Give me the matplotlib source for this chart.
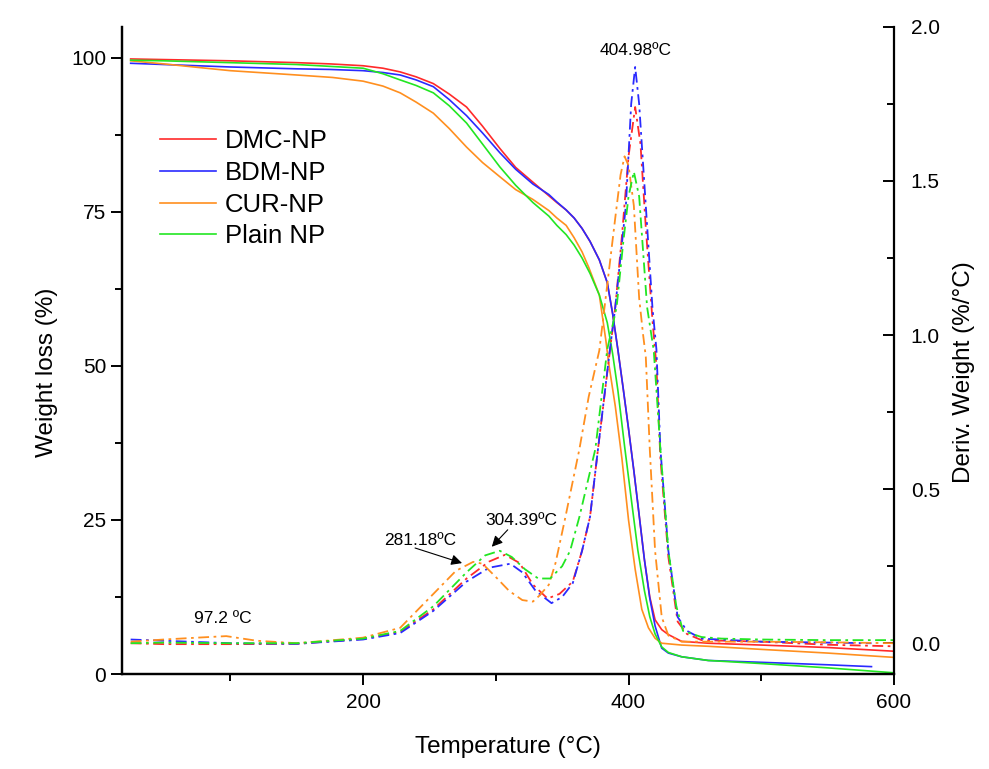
import numpy as np
import matplotlib
matplotlib.use('Agg')
import matplotlib.pyplot as plt
from matplotlib.ticker import MultipleLocator, FormatStrFormatter

plt.rcParams['font.family'] = ['Liberation Sans', 'DejaVu Sans']

# TGA curves (weight %, left axis)
t_dmc = [25, 50, 100, 150, 175, 200, 215, 228, 240, 253, 265, 278, 290, 303, 315, 328, 340, 346, 353, 359,
         365, 371, 378, 384, 388, 392, 396, 400, 404, 408, 412, 416, 420, 425, 430, 440, 460, 500, 550, 600]
w_dmc = [99.8, 99.7, 99.5, 99.2, 99.0, 98.7, 98.3, 97.7, 96.9, 95.8, 94.1, 92.0, 88.9, 85.3, 82.2, 79.8,
         77.6, 76.5, 75.3, 74.0, 72.3, 70.2, 67.2, 63.5, 58.5, 52.6, 46.3, 39.8, 33.0, 25.8, 18.5, 12.5,
         8.8, 7.2, 6.4, 5.3, 5.0, 4.7, 4.3, 3.7]

t_bdm = [25, 50, 100, 150, 175, 200, 215, 228, 240, 253, 265, 278, 290, 303, 315, 328, 340, 346, 353, 359,
         365, 371, 378, 384, 388, 392, 396, 400, 404, 408, 412, 416, 420, 425, 430, 440, 460, 500, 550, 583]
w_bdm = [99.1, 98.9, 98.5, 98.2, 98.1, 97.9, 97.6, 97.2, 96.4, 95.3, 93.2, 90.6, 87.8, 84.6, 81.9, 79.5,
         77.8, 76.6, 75.3, 74.0, 72.3, 70.2, 67.2, 63.5, 58.5, 52.6, 46.3, 39.8, 33.0, 25.8, 18.5, 12.3,
         7.8, 4.2, 3.4, 2.8, 2.2, 1.9, 1.5, 1.2]

t_cur = [25, 50, 77, 100, 150, 177, 200, 215, 228, 240, 253, 265, 278, 290, 303, 315, 328, 340, 346, 353,
         359, 365, 370, 378, 383, 385, 390, 395, 400, 405, 410, 415, 420, 425, 440, 460, 500, 550, 600]
w_cur = [99.5, 99.0, 98.4, 97.9, 97.2, 96.8, 96.2, 95.4, 94.3, 92.8, 91.0, 88.5, 85.5, 83.0, 80.7, 78.6,
         77.0, 75.2, 74.0, 72.8, 70.8, 68.5, 66.0, 61.5, 54.0, 50.5, 43.5, 35.0, 25.0, 17.0, 10.5, 7.5,
         5.8, 5.0, 4.7, 4.5, 4.0, 3.4, 2.7]

t_pla = [25, 50, 100, 150, 175, 200, 215, 228, 240, 253, 265, 278, 290, 303, 315, 328, 340, 346, 353, 359,
         365, 371, 378, 384, 388, 392, 397, 402, 407, 412, 416, 420, 425, 430, 440, 460, 500, 550, 600]
w_pla = [99.6, 99.5, 99.2, 98.9, 98.6, 98.3, 97.4, 96.4, 95.5, 94.3, 92.2, 89.4, 86.0, 82.3, 79.3, 76.5,
         74.3, 72.8, 71.3, 69.6, 67.5, 65.0, 61.5, 57.0, 52.0, 46.0, 37.0, 28.5, 20.1, 13.5, 9.3, 6.5,
         4.4, 3.5, 2.8, 2.2, 1.7, 1.0, 0.2]

# DTG curves (%/°C, right axis)
dt_dmc = [25, 50, 100, 150, 200, 228, 253, 278, 295, 307, 318, 328, 339, 348, 358, 365, 371, 377, 386,
          390, 395, 400, 405, 409, 413, 418, 421, 424, 430, 437, 444, 455, 500, 550, 600]
d_dmc = [0.0, -0.003, -0.003, -0.002, 0.014, 0.037, 0.11, 0.21, 0.265, 0.287, 0.26, 0.19, 0.145, 0.16,
         0.20, 0.30, 0.41, 0.63, 0.95, 1.09, 1.32, 1.58, 1.74, 1.62, 1.35, 1.05, 0.90, 0.60, 0.28, 0.07,
         0.03, 0.01, 0.005, -0.005, -0.01]

dt_bdm = [25, 50, 100, 150, 200, 228, 253, 278, 295, 311, 320, 330, 342, 350, 358, 365, 371, 377, 386,
          390, 398, 402, 405, 408, 413, 418, 421, 424, 430, 437, 444, 455, 500, 583]
d_bdm = [0.012, 0.008, 0.0, -0.002, 0.012, 0.033, 0.105, 0.20, 0.245, 0.258, 0.23, 0.17, 0.13, 0.15,
         0.195, 0.30, 0.41, 0.63, 0.954, 1.09, 1.42, 1.75, 1.87, 1.75, 1.42, 1.09, 0.954, 0.63, 0.30,
         0.085, 0.04, 0.015, 0.005, 0.0]

dt_cur = [25, 50, 75, 97, 120, 150, 200, 228, 253, 270, 283, 290, 300, 310, 320, 328, 333, 340, 345,
          352, 363, 370, 378, 385, 390, 394, 397, 400, 404, 408, 411, 413, 416, 420, 425, 430, 440, 500,
          550, 600]
d_cur = [0.005, 0.012, 0.018, 0.023, 0.008, 0.0, 0.018, 0.05, 0.16, 0.235, 0.264, 0.258, 0.215, 0.17,
         0.14, 0.135, 0.155, 0.19, 0.26, 0.40, 0.63, 0.80, 0.95, 1.20, 1.38, 1.52, 1.58, 1.55, 1.42,
         1.12, 1.0, 0.93, 0.63, 0.30, 0.085, 0.025, 0.005, 0.005, 0.003, 0.0]

dt_pla = [25, 50, 100, 150, 200, 228, 253, 278, 292, 303, 312, 322, 332, 341, 350, 356, 363, 375, 384,
          391, 396, 400, 404, 408, 414, 419, 424, 430, 436, 441, 455, 470, 500, 550, 600]
d_pla = [0.0, 0.002, 0.0, 0.0, 0.015, 0.04, 0.12, 0.23, 0.285, 0.30, 0.28, 0.24, 0.21, 0.21, 0.25, 0.30,
         0.41, 0.63, 0.954, 1.09, 1.30, 1.45, 1.53, 1.45, 1.09, 0.95, 0.63, 0.30, 0.12, 0.04, 0.02,
         0.015, 0.012, 0.01, 0.01]

labels = ['DMC-NP', 'BDM-NP', 'CUR-NP', 'Plain NP']
colors = ['#ff2a2a', '#2a2aff', '#ff8f1f', '#22e622']

fig = plt.figure(figsize=(9.89, 7.69), dpi=100)
ax = fig.add_axes([0.1234, 0.1235, 0.7806, 0.8415])
ax2 = ax.twinx()

tga = [(t_dmc, w_dmc), (t_bdm, w_bdm), (t_cur, w_cur), (t_pla, w_pla)]
dtg = [(dt_dmc, d_dmc), (dt_bdm, d_bdm), (dt_cur, d_cur), (dt_pla, d_pla)]

for (t, w), lab, c in zip(tga, labels, colors):
    ax.plot(t, w, '-', color=c, lw=1.2, label=lab)
for (t, d), c in zip(dtg, colors):
    ax2.plot(t, d, color=c, lw=1.3, linestyle=(0, (6, 2.5, 1.5, 2.5)))

ax.set_xlim(18.5, 600)
ax.set_ylim(0, 105)
ax2.set_ylim(-0.1, 2.0)

ax.xaxis.set_major_locator(MultipleLocator(200))
ax.xaxis.set_minor_locator(MultipleLocator(100))
ax.yaxis.set_major_locator(MultipleLocator(25))
ax.yaxis.set_minor_locator(MultipleLocator(12.5))
ax2.yaxis.set_major_locator(MultipleLocator(0.5))
ax2.yaxis.set_minor_locator(MultipleLocator(0.25))
ax2.yaxis.set_major_formatter(FormatStrFormatter('%.1f'))

for a in (ax, ax2):
    a.spines['top'].set_visible(False)
    for s in ('left', 'right', 'bottom'):
        a.spines[s].set_linewidth(1.6)
ax.spines['right'].set_visible(False)

ax.tick_params(axis='both', which='major', direction='out', length=8, width=1.4, labelsize=15)
ax.tick_params(axis='both', which='minor', direction='out', length=5, width=1.4)
ax.tick_params(axis='x', which='major', pad=6)
ax2.tick_params(axis='y', which='major', direction='in', length=8, width=1.4, labelsize=15, pad=12)
ax2.tick_params(axis='y', which='minor', direction='in', length=5, width=1.4)

ax.set_xlabel('Temperature (°C)', fontsize=17.5)
ax.set_ylabel('Weight loss (%)', fontsize=17.5)
ax2.set_ylabel('Deriv. Weight (%/°C)', fontsize=17.5)
ax.xaxis.set_label_coords(0.5, -0.095)
ax.yaxis.set_label_coords(-0.083, 0.467)
ax2.yaxis.set_label_coords(1.076, 0.467)

ax.legend(loc='upper left', bbox_to_anchor=(0.049, 0.842), frameon=False, fontsize=18.5,
          handlelength=2.2, handletextpad=0.32, labelspacing=0.3, borderpad=0, borderaxespad=0)

# peak labels
ax2.text(405.7, 1.925, '404.98ºC', fontsize=12.5, ha='center', va='center')
ax2.text(94.6, 0.08, '97.2 ºC', fontsize=12.5, ha='center', va='center')
ax2.text(243, 0.332, '281.18ºC', fontsize=12.5, ha='center', va='center')
ax2.text(319, 0.397, '304.39ºC', fontsize=12.5, ha='center', va='center')
arrow = dict(arrowstyle='-|>', color='black', lw=0.8, mutation_scale=16, shrinkA=0, shrinkB=0)
ax2.annotate('', xy=(274.6, 0.26), xytext=(239.2, 0.309), arrowprops=arrow)
ax2.annotate('', xy=(297, 0.313), xytext=(309, 0.368), arrowprops=arrow)

fig.savefig('out.png', dpi=100)
